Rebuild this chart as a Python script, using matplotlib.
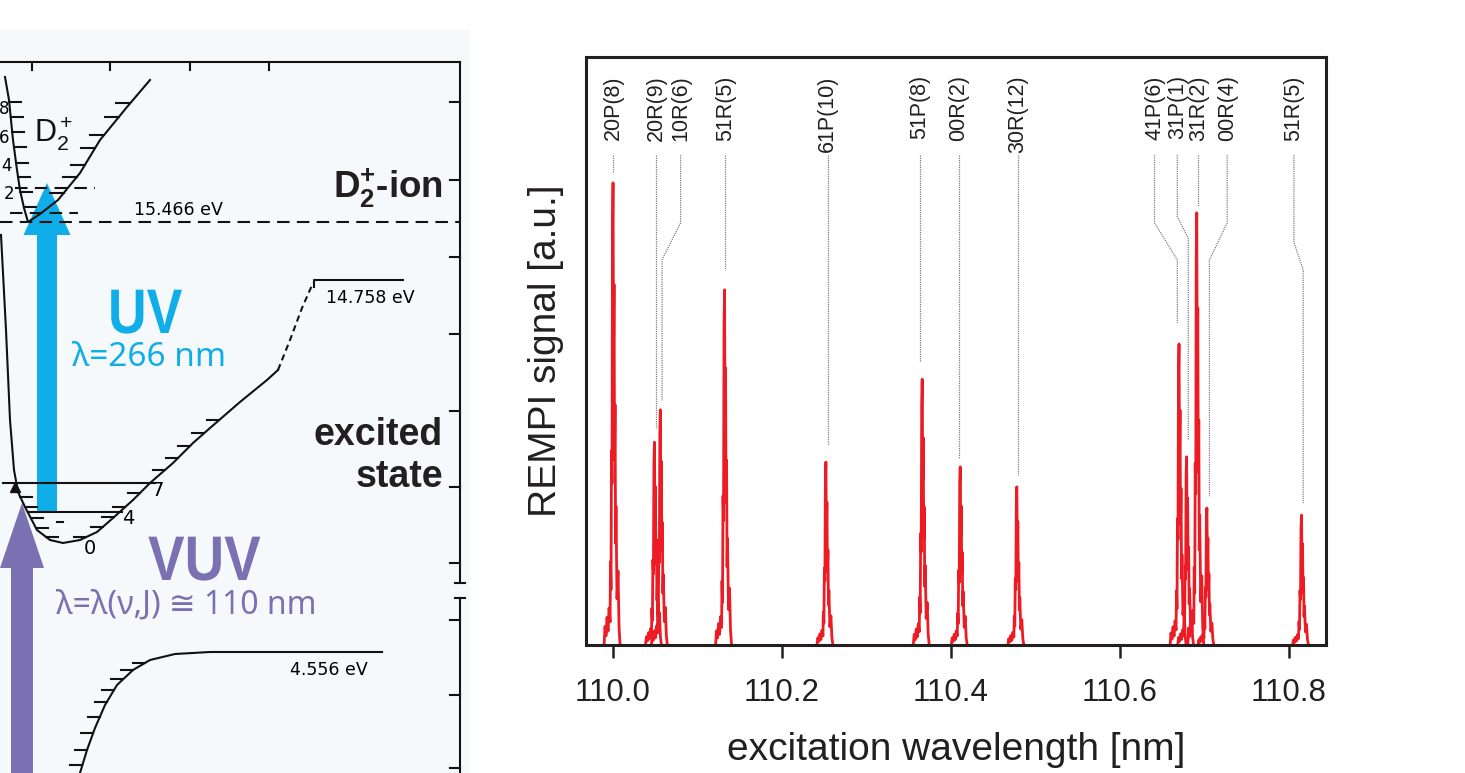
import matplotlib.pyplot as plt
from matplotlib.patches import FancyArrow, PathPatch
from matplotlib.textpath import TextPath
from matplotlib.font_manager import FontProperties
from matplotlib.transforms import Affine2D
import numpy as np

plt.rcParams['font.family'] = ['Liberation Sans', 'DejaVu Sans']
plt.rcParams['mathtext.fontset'] = 'custom'
plt.rcParams['mathtext.rm'] = 'Liberation Sans'
plt.rcParams['mathtext.bf'] = 'Liberation Sans:bold'
plt.rcParams['mathtext.it'] = 'Liberation Sans:italic'

INK = '#231f20'
RED = '#ed1c24'
UV_COL = '#10aee8'
VUV_COL = '#7a70b2'

### REMPI spectrum data ###
peak_nm = [110.000, 110.049, 110.056, 110.132, 110.252, 110.366, 110.411,
           110.478, 110.670, 110.679, 110.691, 110.703, 110.815]
peak_height = [0.786, 0.345, 0.400, 0.604, 0.311, 0.452, 0.303,
               0.269, 0.512, 0.320, 0.735, 0.233, 0.221]
# line shape of one resonance (offset in nm, fraction of peak height)
profile_dnm = [-0.0106, -0.0095, -0.0083, -0.0071, -0.0059, -0.0047, -0.0035, -0.0030,
               -0.0024, -0.0018, -0.0012, -0.0006, 0.0, 0.0006, 0.0012, 0.0018,
               0.0024, 0.0030, 0.0035, 0.0047, 0.0059, 0.0071, 0.0083]
profile_rel = [0.0, 0.04, 0.02, 0.06, 0.03, 0.08, 0.05, 0.18,
               0.12, 0.42, 0.35, 0.90, 1.0, 0.62, 0.78, 0.40,
               0.52, 0.22, 0.30, 0.10, 0.16, 0.04, 0.0]

line_names = ['20P(8)', '20R(9)', '10R(6)', '51R(5)', '61P(10)', '51P(8)', '00R(2)',
              '30R(12)', '41P(6)', '31P(1)', '31R(2)', '00R(4)', '51R(5)']
label_nm = [110.000, 110.051, 110.080, 110.133, 110.254, 110.363, 110.409,
            110.479, 110.641, 110.668, 110.693, 110.727, 110.806]
leader_nm = [110.000, 110.051, 110.058, 110.133, 110.254, 110.363, 110.409,
             110.479, 110.668, 110.681, 110.693, 110.706, 110.817]
leader_end = [0.804, 0.369, 0.415, 0.638, 0.340, 0.481, 0.318,
              0.289, 0.548, 0.349, 0.747, 0.253, 0.241]
kink_top = [0.804, 0.369, 0.718, 0.638, 0.340, 0.481, 0.318,
            0.289, 0.718, 0.728, 0.747, 0.718, 0.685]
kink_bot = [0.804, 0.369, 0.655, 0.638, 0.340, 0.481, 0.318,
            0.289, 0.655, 0.692, 0.747, 0.655, 0.638]
xticks = [110.0, 110.2, 110.4, 110.6, 110.8]

### potential energy sketch (panel pixel units, y downwards) ###
ion_x = [5, 9, 13, 17, 20, 24, 28, 40, 58, 80, 100, 127, 150]
ion_y = [77, 100, 140, 170, 190, 208, 222, 214, 200, 173, 140, 107, 80]
ion_hatch_left = [102, 117, 132, 147, 163, 177, 192, 207]
ion_hatch_right = [103, 117, 135, 148, 165, 177, 193]
ion_levels = ['8', '6', '4', '2']
ion_levels_xy = [(4, 109), (4, 138), (6, 166), (9, 194)]

exc_x = [1, 6, 10, 14, 18, 25, 37, 50, 63, 80, 97, 113, 133, 150, 173, 193, 210, 240, 267, 278]
exc_y = [235, 330, 420, 470, 492, 507, 530, 540, 543, 540, 532, 518, 500, 483, 463, 443, 428, 402, 380, 370]
exc_dash_x = [278, 290, 302, 313]
exc_dash_y = [370, 340, 308, 283]
exc_hatch_left = [497, 507, 518, 528, 537]
exc_hatch_right = [537, 527, 517, 507, 493, 470, 458, 446, 433, 420]

gnd_x = [80, 87, 95, 105, 117, 133, 150, 175, 210, 382]
gnd_y = [773, 750, 728, 705, 685, 670, 660, 654, 652, 652]
gnd_hatch = [765, 750, 733, 717, 702, 690, 679, 670, 663]

right_ticks = [102, 180, 257, 334, 411, 487, 563, 620, 695, 768]
top_ticks = [32, 110, 190, 269]


def condensed(ax, x, y, s, size, sx, color):
    # bold condensed lettering, x/y = left end of baseline
    tp = TextPath((0, 0), s, size=size,
                  prop=FontProperties(family='Liberation Sans', weight='bold'))
    tr = Affine2D().scale(sx, -1).translate(x, y) + ax.transData
    ax.add_patch(PathPatch(tp, transform=tr, color=color, lw=0))


fig = plt.figure(figsize=(14.65, 7.73), dpi=100)

### left panel: sketch ###
axl = fig.add_axes([0, 0, 470 / 1465, 743 / 773])
axl.set_xlim(0, 470)
axl.set_ylim(773, 30)
axl.set_facecolor('#f6f9fb')
for s in axl.spines.values():
    s.set_visible(False)
axl.set_xticks([])
axl.set_yticks([])

k = dict(color='#111111', lw=1.5)
# frame
axl.plot([0, 460], [62, 62], **k)
axl.plot([460, 460], [62, 583], **k)
axl.plot([460, 460], [598, 773], **k)
axl.plot([455, 465], [583, 583], **k)
axl.plot([455, 465], [598, 598], **k)
for y in right_ticks:
    axl.plot([450, 460], [y, y], **k)
for x in top_ticks:
    axl.plot([x, x], [62, 70], **k)

# D2+ ion curve
axl.plot(ion_x, ion_y, **k)
lx, ly = ion_x[:7], ion_y[:7]
rx, ry = ion_x[6:], ion_y[6:]
for y in ion_hatch_left:
    x0 = np.interp(y, ly, lx)
    axl.plot([x0, x0 + 12], [y, y], **k)
for y in ion_hatch_right:
    x0 = np.interp(y, ry[::-1], rx[::-1])
    axl.plot([x0 - 14, x0], [y, y], **k)
for t, (x, y) in zip(ion_levels, ion_levels_xy):
    axl.text(x, y, t, fontsize=12, ha='center', va='center', family='DejaVu Sans')
axl.text(34, 133, r'D$_2^+$', fontsize=22, ha='left', va='center', color='#111111')

# dashed levels
dash = dict(color='#111111', lw=1.5, dashes=(6, 3.5))
axl.plot([0, 460], [222, 222], **dash)
axl.plot([15, 95], [188, 188], **dash)
axl.plot([10, 78], [213, 213], **dash)
axl.text(178, 210, '15.466 eV', fontsize=12.5, ha='center', va='center', family='DejaVu Sans')
axl.text(443, 188, r'D$_\mathbf{2}^\mathbf{+}$-ion', fontsize=26.5, fontweight='bold',
         ha='right', va='center', color=INK)

# excited state
axl.plot(exc_x, exc_y, **k)
axl.plot(exc_dash_x, exc_dash_y, color='#111111', lw=1.5, dashes=(3, 2))
axl.plot([314, 314, 403], [287, 280, 280], **k)
axl.text(370, 298, '14.758 eV', fontsize=12.5, ha='center', va='center', family='DejaVu Sans')
wl_x, wl_y = exc_x[:9], exc_y[:9]
wr_x, wr_y = exc_x[8:], exc_y[8:]
for y in exc_hatch_left:
    x0 = np.interp(y, wl_y, wl_x)
    axl.plot([x0, x0 + 12], [y, y], **k)
for y in exc_hatch_right:
    x0 = np.interp(y, wr_y[::-1], wr_x[::-1])
    axl.plot([x0 - 12, x0], [y, y], **k)
axl.plot([3, 155], [483, 483], **k)
axl.plot([28, 122], [512, 512], **k)
axl.plot([57, 63], [522, 522], **k)
axl.text(158, 491, '7', fontsize=14, ha='center', va='center', family='DejaVu Sans')
axl.text(128, 518, '4', fontsize=14, ha='center', va='center', family='DejaVu Sans')
axl.text(90, 548, '0', fontsize=14, ha='center', va='center', family='DejaVu Sans')
axl.text(443, 435, 'excited', fontsize=27, fontweight='bold', ha='right', va='center', color=INK)
axl.text(443, 477, 'state', fontsize=27, fontweight='bold', ha='right', va='center', color=INK)

# ground state
axl.plot(gnd_x, gnd_y, **k)
for y in gnd_hatch:
    x0 = np.interp(y, gnd_y[::-1], gnd_x[::-1])
    axl.plot([x0 - 12, x0], [y, y], **k)
axl.text(329, 670, '4.556 eV', fontsize=12.5, ha='center', va='center', family='DejaVu Sans')

# laser arrows
axl.add_patch(FancyArrow(47, 512, 0, -329, width=20, head_width=47, head_length=52,
                         length_includes_head=True, color=UV_COL, lw=0))
axl.add_patch(FancyArrow(22, 790, 0, -287, width=22, head_width=44, head_length=65,
                         length_includes_head=True, color=VUV_COL, lw=0))
axl.plot([15], [487], marker='^', color='#111111', ms=7)
condensed(axl, 108, 333, 'UV', 63, 0.85, UV_COL)
condensed(axl, 148, 580, 'VUV', 63, 0.87, VUV_COL)
light = ['Noto Sans', 'DejaVu Sans']
axl.text(72, 357, 'λ=266 nm', fontsize=24, family=light, fontweight='light',
         ha='left', va='center', color=UV_COL)
axl.text(56, 605, 'λ=λ(ν,J) ≅ 110 nm', fontsize=23, family=light,
         ha='left', va='center', color=VUV_COL)

### right panel: REMPI spectrum ###
ax = fig.add_axes([586 / 1465, 128 / 773, 740 / 1465, 588 / 773])
for c, h in zip(peak_nm, peak_height):
    xs = [c + d for d in profile_dnm]
    ys = [h * r for r in profile_rel]
    ax.plot(xs, ys, color=RED, lw=2.0)

for name, lx0, px0, end, ka, kb in zip(line_names, label_nm, leader_nm,
                                         leader_end, kink_top, kink_bot):
    ax.plot([lx0, lx0, px0, px0], [0.833, ka, kb, end], color='#808080',
            lw=0.9, ls=(0, (1, 0.8)))
    ax.text(lx0, 0.969, name, rotation=90, ha='center', va='top',
            fontsize=15.5, color=INK)

ax.set_xlim(109.968, 110.844)
ax.set_ylim(0, 1)
ax.set_xticks(xticks)
ax.set_xticklabels([f'{t:.1f}' for t in xticks])
ax.set_yticks([])
for s in ax.spines.values():
    s.set_linewidth(2.2)
    s.set_color(INK)
ax.tick_params(axis='x', direction='out', length=9, width=1.8, color=INK,
               labelsize=22.5, labelcolor=INK, pad=15)
ax.set_xlabel('excitation wavelength [nm]', fontsize=28, color=INK, labelpad=17)
ax.set_ylabel('REMPI signal [a.u.]', fontsize=28, color=INK, labelpad=16)

fig.savefig('out.png', dpi=100)
